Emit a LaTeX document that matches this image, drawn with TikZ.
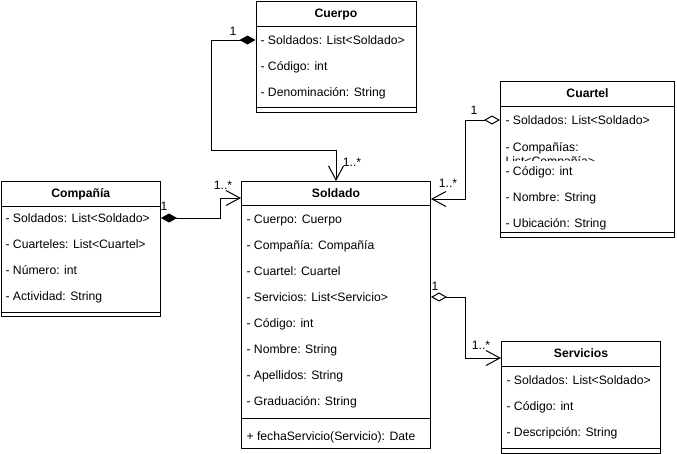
\documentclass[tikz,border=0pt]{standalone}
\usepackage{fontspec}
\setmainfont{Liberation Sans}
\usetikzlibrary{arrows.meta}
\begin{document}
\begin{tikzpicture}[x=1pt,y=-1pt,line width=1pt,
  every node/.style={font=\fontsize{12.2}{14}\selectfont,inner sep=0pt,text height=8.7pt,text depth=0pt},
  classbox/.style={draw,rectangle,anchor=north west,inner sep=0pt},
  head/.style={font=\fontsize{12.2}{14}\selectfont\bfseries},
  attr/.style={anchor=west},
  mult/.style={},
  comp/.style={{Diamond[length=16pt,width=9pt,fill=black]}-{Straight Barb[length=14pt,width=15pt]}},
  aggr/.style={{Diamond[length=16pt,width=9pt,fill=white]}-{Straight Barb[length=14pt,width=15pt]}}]
\fill[white] (0,0) rectangle (677,453);
\useasboundingbox (0,0) rectangle (677,453);

% ---------- Cuerpo
\node[classbox,minimum width=160pt,minimum height=111.5pt] (cuerpo) at (255.5,0.5) {};
\node[head] (cuerpoT) at (cuerpo.north |- 0,13) {Cuerpo};
\draw (cuerpo.west |- 0,26) -- (cuerpo.east |- 0,26);
\node[attr] (c1) at (260,40) {- Soldados: List<Soldado>};
\node[attr] (c2) at (260,66) {- Código: int};
\node[attr] (c3) at (260,92) {- Denominación: String};
\draw (cuerpo.west |- 0,107) -- (cuerpo.east |- 0,107);

% ---------- Soldado
\node[classbox,minimum width=189pt,minimum height=267pt] (soldado) at (241,181) {};
\node[head] (soldadoT) at (soldado.north |- 0,193) {Soldado};
\draw (soldado.west |- 0,205) -- (soldado.east |- 0,205);
\node[attr] (s1) at (246,219) {- Cuerpo: Cuerpo};
\node[attr] (s2) at (246,245) {- Compañía: Compañía};
\node[attr] (s3) at (246,271) {- Cuartel: Cuartel};
\node[attr] (s4) at (246,297) {- Servicios: List<Servicio>};
\node[attr] (s5) at (246,323) {- Código: int};
\node[attr] (s6) at (246,349) {- Nombre: String};
\node[attr] (s7) at (246,375) {- Apellidos: String};
\node[attr] (s8) at (246,401) {- Graduación: String};
\draw (soldado.west |- 0,418) -- (soldado.east |- 0,418);
\node[attr] (sm1) at (246,436) {+ fechaServicio(Servicio): Date};

% ---------- Compañía
\node[classbox,minimum width=159.5pt,minimum height=135pt] (compania) at (0.5,181) {};
\node[head] (companiaT) at (compania.north |- 0,193) {Compañía};
\draw (compania.west |- 0,206) -- (compania.east |- 0,206);
\node[attr] (p1) at (5,218) {- Soldados: List<Soldado>};
\node[attr] (p2) at (5,244) {- Cuarteles: List<Cuartel>};
\node[attr] (p3) at (5,270) {- Número: int};
\node[attr] (p4) at (5,296) {- Actividad: String};
\draw (compania.west |- 0,312) -- (compania.east |- 0,312);

% ---------- Cuartel
\node[classbox,minimum width=174pt,minimum height=156pt] (cuartel) at (500,81) {};
\node[head] (cuartelT) at (cuartel.north |- 0,93) {Cuartel};
\draw (cuartel.west |- 0,106) -- (cuartel.east |- 0,106);
\node[attr] (q1) at (505,120) {- Soldados: List<Soldado>};
\begin{scope}
  \clip (501,134) rectangle (673,160);
  \node[attr] (q2) at (505,147) {- Compañías:};
  \node[attr] (q2b) at (505,161) {List<Compañía>};
\end{scope}
\node[attr] (q3) at (505,171) {- Código: int};
\node[attr] (q4) at (505,197) {- Nombre: String};
\node[attr] (q5) at (505,223) {- Ubicación: String};
\draw (cuartel.west |- 0,232) -- (cuartel.east |- 0,232);

% ---------- Servicios
\node[classbox,minimum width=159pt,minimum height=111.5pt] (servicios) at (501,341) {};
\node[head] (serviciosT) at (servicios.north |- 0,353) {Servicios};
\draw (servicios.west |- 0,366) -- (servicios.east |- 0,366);
\node[attr] (v1) at (506,380) {- Soldados: List<Soldado>};
\node[attr] (v2) at (506,406) {- Código: int};
\node[attr] (v3) at (506,432) {- Descripción: String};
\draw (servicios.west |- 0,448) -- (servicios.east |- 0,448);

% ---------- connectors
\draw[comp] (cuerpo.west |- c1) -| (211,150) -| (soldado.north);
\draw[comp] (compania.east |- p1) -| (220,198) -- (soldado.west |- 0,198);
\draw[aggr] (cuartel.west |- q1) -| (465,199) -- (soldado.east |- 0,199);
\draw[aggr] (soldado.east |- s4) -| (465,358) -- (servicios.west |- 0,358);

% ---------- multiplicities
\node[mult] (m1) at (233,31) {1};
\node[mult] (m2) at (352,162) {1..*};
\node[mult] (m3) at (164,206) {1};
\node[mult] (m4) at (223,185) {1..*};
\node[mult] (m5) at (474,110) {1};
\node[mult] (m6) at (448,183) {1..*};
\node[mult] (m7) at (435,286) {1};
\node[mult] (m8) at (481,345) {1..*};
\end{tikzpicture}
\end{document}
